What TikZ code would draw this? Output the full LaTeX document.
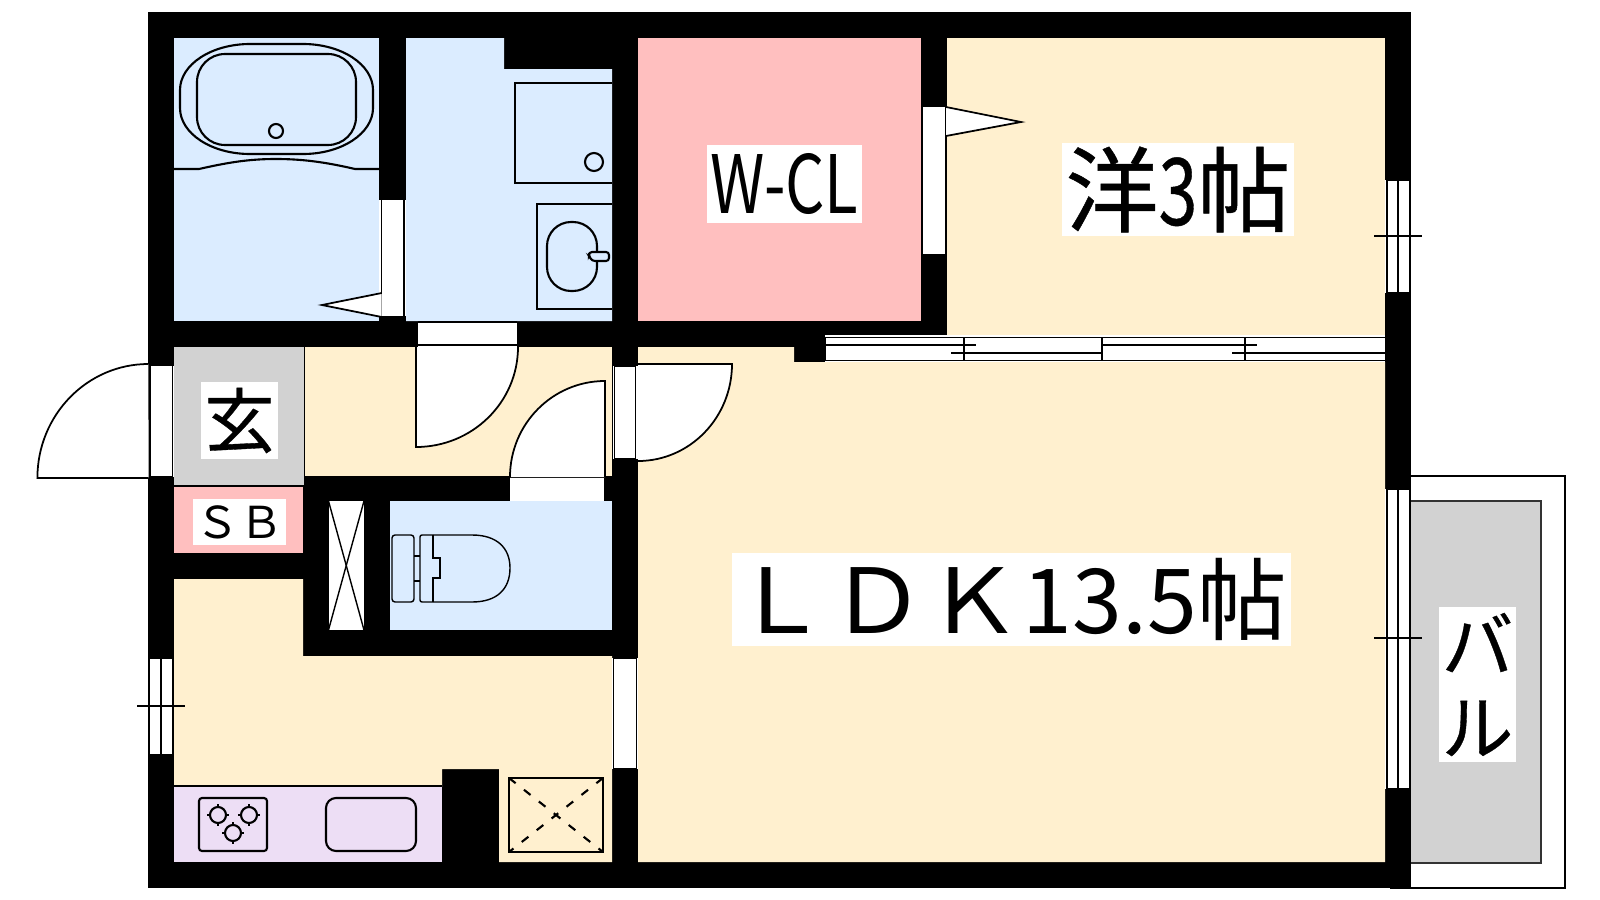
\documentclass[tikz,border=0pt]{standalone}
\usepackage{fontspec}
\usepackage{graphicx}
\usetikzlibrary{positioning}
\newfontfamily\cjk[FakeBold=0.5]{Noto Sans CJK JP}
\newfontfamily\cjklight{Noto Sans CJK JP}
\definecolor{roomcream}{HTML}{FFF0CF}
\definecolor{wetblue}{HTML}{DBECFF}
\definecolor{closetpink}{HTML}{FFBFBF}
\definecolor{floorgray}{HTML}{D2D2D2}
\definecolor{kitpurple}{HTML}{EDDEF5}
\tikzstyle{ln} = [black, line width=0.4pt]
\tikzstyle{thk} = [black, line width=0.6pt]
\tikzstyle{door} = [fill=white, draw=black, line width=0.5pt]
\tikzstyle{lbl} = [fill=white, inner sep=0pt, font=\cjk]
\begin{document}
\begin{tikzpicture}[x=0.01cm,y=-0.01cm]
      \useasboundingbox (0,0) rectangle (1600,900);
      \fill[white] (0,0) rectangle (1600,900);
      % balcony
      \draw[thk] (1411,476) -- (1565,476) -- (1565,888) -- (1390,888);
      \filldraw[fill=floorgray, draw=black!80, line width=0.5pt] (1411,501) -- (1541,501) -- (1541,863) -- (1411,863);
      % walls, the rooms are cut out of this
      \fill[black] (148,12) rectangle (1411,888);
      % rooms
      \fill[wetblue] (174,38) rectangle (379,321);
      \fill[wetblue] (406,38) -- (504,38) -- (504,69) -- (612,69) -- (612,321) -- (406,321) -- cycle;
      \fill[wetblue] (390,501) rectangle (612,630);
      \fill[closetpink] (638,38) rectangle (921,321);
      \fill[closetpink] (174,487) rectangle (303,553);
      \fill[floorgray] (174,347) rectangle (304,485);
      \fill[roomcream] (947,38) rectangle (1385,335);
      \fill[roomcream] (638,347) -- (794,347) -- (794,362) -- (1385,362) -- (1385,862) -- (638,862) -- cycle;
      \fill[roomcream] (305,347) rectangle (612,476);
      \fill[roomcream] (174,579) -- (303,579) -- (303,656) -- (612,656) -- (612,862) -- (499,862) -- (499,769) -- (442,769) -- (442,787) -- (174,787) -- cycle;
      \fill[kitpurple] (174,787) rectangle (442,862);
      \draw[ln] (174,786) -- (442,786);
      \draw[ln] (304.5,347) -- (304.5,476);
      \draw[ln] (174,485.5) -- (303,485.5);
      % bath
      \draw[thk] (250,44) -- (303,44) arc (-90:0:70 and 46) -- (373,108) arc (0:90:70 and 46) -- (250,154) arc (90:180:70 and 46) -- (180,90) arc (180:270:70 and 46);
      \draw[thk, rounded corners=0.28cm] (197,54) rectangle (356,145);
      \draw[thk] (276,131) circle (7);
      \draw[thk] (174,169) -- (199,169) .. controls (230,162) and (250,159) .. (276,159) .. controls (302,159) and (325,162) .. (355,169) -- (379,169);
      \fill[white] (379,200) rectangle (406,316);
      \draw[ln] (381.7,200) -- (381.7,316);
      \draw[ln] (404,200) -- (404,316);
      \filldraw[door] (381.7,293) -- (322,305) -- (381.7,317);
      % washroom
      \draw[thk] (612,83) -- (515,83) -- (515,183) -- (612,183);
      \draw[thk] (594,162) circle (9);
      \draw[thk] (612,204) -- (537,204) -- (537,309) -- (612,309);
      \draw[thk, rounded corners=0.24cm] (547,222) rectangle (597,291);
      \filldraw[thk, fill=wetblue, rounded corners=0.03cm] (589,252) -- (609,252) -- (609,261) -- (592,261) -- (589,256) -- cycle;
      % doors of the hall
      \fill[white] (418,321) rectangle (517,347);
      \draw[ln] (418,322) -- (517,322);
      \draw[ln] (418,345) -- (517,345);
      \filldraw[door] (416,347) -- (416,447) arc (90:0:102 and 100);
      \fill[white] (510,476) rectangle (604,501);
      \draw[ln] (510,477) -- (604,477);
      \filldraw[door] (605,477) -- (605,381) arc (-90:-180:95 and 96);
      \fill[white] (613,366) rectangle (638,459);
      \draw[ln] (614.6,366) -- (635.7,366) -- (635.7,459) -- (614.6,459) -- cycle;
      \filldraw[door] (638,364) -- (732,364) arc (0:90:94 and 97);
      \fill[white] (149,366) rectangle (174,477);
      \draw[ln] (150,366) -- (150,477) -- (172.4,477) -- (172.4,366);
      \filldraw[door] (148.6,478) -- (37.4,478) arc (180:270:111 and 114);
      % W-CL door
      \fill[white] (921,107) rectangle (947,254);
      \draw[ln] (922,107) -- (922,254);
      \draw[ln] (946,107) -- (946,254);
      \filldraw[door] (946,107) -- (1021,122) -- (946,136);
      % shaft
      \fill[white] (328.5,501) rectangle (364,630);
      \draw[ln] (328.5,501) -- (364,630);
      \draw[ln] (364,501) -- (328.5,630);
      % toilet
      \draw[ln, rounded corners=0.03cm] (392,535) rectangle (414,602);
      \draw[ln] (414,556) -- (420,556);
      \draw[ln] (414,581) -- (420,581);
      \draw[ln, rounded corners=0.02cm] (433,535) -- (420,535) -- (420,602) -- (433,602);
      \draw[ln] (433,535) -- (433,558) -- (440,558) -- (440,578) -- (433,578) -- (433,602);
      \draw[ln] (433,535) -- (472,535) .. controls (497,535) and (510,548) .. (510,568) .. controls (510,589) and (497,602) .. (472,602) -- (433,602);
      % lower windows and openings
      \fill[white] (149,658) rectangle (173,755);
      \draw[ln] (149.5,658) rectangle (172.5,755);
      \draw[ln] (161,658) -- (161,755);
      \draw[ln] (137,706) -- (185,706);
      \fill[white] (612,658) rectangle (638,769);
      \draw[ln] (613.5,658) -- (636.5,658) -- (636.5,769) -- (613.5,769) -- cycle;
      % kitchen
      \draw[thk, rounded corners=0.03cm] (199,798) rectangle (267,851);
      \draw[thk] (218,804) -- (218,826);
      \draw[thk] (207,815) -- (229,815);
      \filldraw[thk, fill=kitpurple] (218,815) circle (8);
      \draw[thk] (249,804) -- (249,826);
      \draw[thk] (238,815) -- (260,815);
      \filldraw[thk, fill=kitpurple] (249,815) circle (8);
      \draw[thk] (233,822) -- (233,844);
      \draw[thk] (222,833) -- (244,833);
      \filldraw[thk, fill=kitpurple] (233,833) circle (8);
      \draw[thk, rounded corners=0.1cm] (326,798) rectangle (416,851);
      % fridge place
      \draw[thk, line width=0.8pt] (509,778) rectangle (603,852);
      \draw[thk, dash pattern=on 2.4pt off 3pt] (509,778) -- (603,852);
      \draw[thk, dash pattern=on 2.4pt off 3pt] (603,778) -- (509,852);
      % sliding doors between the rooms
      \fill[white] (825,335) rectangle (1385,362);
      \draw[ln] (825,337.5) -- (1385,337.5);
      \draw[ln] (825,360.5) -- (1385,360.5);
      \draw[ln] (825,337.5) -- (825,360.5);
      \draw[ln] (964,337.5) -- (964,360.5);
      \draw[ln] (1102,337.5) -- (1102,360.5);
      \draw[ln] (1245,337.5) -- (1245,360.5);
      \draw[ln] (825,345) -- (976,345);
      \draw[ln] (951,353) -- (1101,353);
      \draw[ln] (1102,345) -- (1257,345);
      \draw[ln] (1232,353) -- (1385,353);
      % outer windows on the right
      \fill[white] (1385,180) rectangle (1411,293);
      \draw[ln] (1387,180) rectangle (1410,293);
      \draw[ln] (1398,180) -- (1398,293);
      \draw[ln] (1374,236) -- (1422,236);
      \fill[white] (1385,489) rectangle (1411,789);
      \draw[ln] (1387,489) rectangle (1410,789);
      \draw[ln] (1398,489) -- (1398,789);
      \draw[ln] (1374,638) -- (1422,638);
      % labels
      \node[lbl, font=\cjklight, minimum width=1.55cm, minimum height=0.78cm] (wcl) at (784.5,184) {\resizebox{1.48cm}{0.6cm}{W-CL}};
      \node[lbl, minimum width=2.32cm, minimum height=0.93cm] (yoshitsu) at (1178,189.5) {\fontsize{26.5}{30}\selectfont 洋\scalebox{0.75}[1]{3}帖};
      \node[lbl, font=\cjklight, minimum width=5.59cm, minimum height=0.93cm] (ldk) at (1011.5,599.5) {\makebox[5.59cm]{\fontsize{25.5}{30}\selectfont \scalebox{1.08}[1]{ＬＤＫ}13.5帖\hspace*{0.04cm}}};
      \node[lbl, minimum width=0.77cm, minimum height=0.77cm] (genkan) at (239.5,420.5) {\fontsize{20}{24}\selectfont 玄};
      \node[lbl, font=\cjklight, minimum width=0.93cm, minimum height=0.46cm] (sb) at (239.5,522) {\fontsize{12.5}{15}\selectfont ＳＢ};
      \node[lbl, font={\cjk\fontsize{20.4}{23.5}\selectfont}, minimum width=0.77cm, minimum height=1.55cm, align=center] (bal) at (1477.5,684.5) {バ\\ル};
\end{tikzpicture}
\end{document}
